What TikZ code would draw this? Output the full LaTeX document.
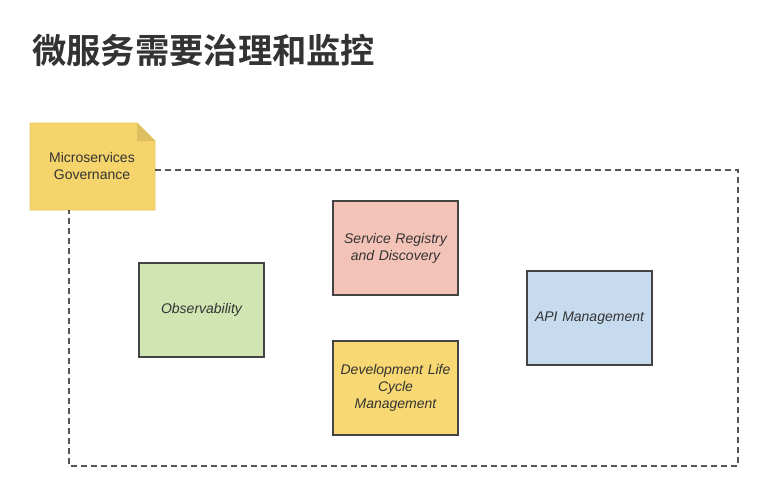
\documentclass[tikz,border=0pt]{standalone}
\usepackage{fontspec}
\setmainfont{Liberation Sans}
\newfontfamily\cjk{Noto Sans CJK SC}[BoldFont={* Bold}]
\usetikzlibrary{shapes.misc}
\definecolor{notefill}{HTML}{F6D46C}
\definecolor{noteedge}{HTML}{E8C860}
\definecolor{pinkfill}{HTML}{F4C3B8}
\definecolor{yellowfill}{HTML}{F8D872}
\definecolor{greenfill}{HTML}{D1E5B3}
\definecolor{bluefill}{HTML}{C7DBEF}
\definecolor{edgegray}{HTML}{444444}
\definecolor{txtgray}{HTML}{333333}
\definecolor{dashgray}{HTML}{555555}
\tikzset{
  cardbox/.style={draw=edgegray, line width=1.4pt, minimum width=125pt, minimum height=94pt,
    text width=115pt, align=center, font=\fontsize{14}{17}\selectfont\itshape, text=txtgray, inner sep=0pt},
  groupline/.style={draw=dashgray, line width=1.5pt, dash pattern=on 6pt off 4pt},
}
\begin{document}
\begin{tikzpicture}[x=1pt,y=-1pt]
\useasboundingbox[fill=white] (0,0) rectangle (771,487);
% title
\node[anchor=west, inner sep=0pt, text=txtgray, font=\cjk\bfseries\fontsize{34.3}{38}\selectfont] (title) at (32,50) {微服务需要治理和监控};
% note
\fill[notefill, draw=noteedge, line width=0.8pt] (30,123) -- (137,123) -- (155,141) -- (155,210) -- (30,210) -- cycle;
\fill[noteedge!80!black!40!notefill] (137,123) -- (137,141) -- (155,141) -- cycle;
\node[align=center, text=txtgray, font=\fontsize{14}{17}\selectfont] (note) at (92,166) {Microservices\\Governance};
% dashed group boundary
\coordinate (c1) at (155,170);
\coordinate (c2) at (738,170);
\coordinate (c3) at (738,466);
\coordinate (c4) at (69,466);
\coordinate (c5) at (69,210);
\draw[groupline] (c1) -- (c2) -- (c3) -- (c4) -- (c5);
% boxes
\node[cardbox, fill=pinkfill] (srd) at (395.5,248) {Service Registry\\and Discovery};
\node[cardbox, fill=yellowfill] (dlc) at (395.5,388) {Development Life\\Cycle\\Management};
\node[cardbox, fill=greenfill] (obs) at (201.5,310) {Observability};
\node[cardbox, fill=bluefill] (api) at (589.5,318) {API Management};
\end{tikzpicture}
\end{document}
